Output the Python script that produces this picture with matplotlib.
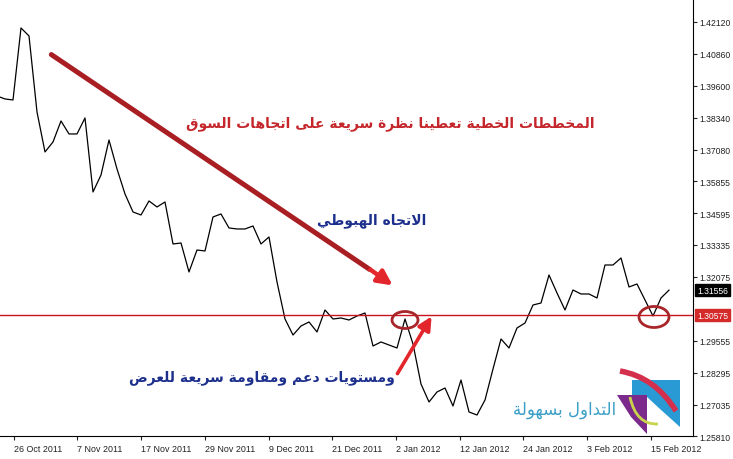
import matplotlib
matplotlib.use("Agg")
import matplotlib.pyplot as plt
from matplotlib.patches import Ellipse, Polygon
from matplotlib.path import Path
from matplotlib.patches import PathPatch
import matplotlib.transforms as mtransforms

# daily close prices (EURUSD-like)
prices = [
    1.39206, 1.39088, 1.39048, 1.41885, 1.41570, 1.38576, 1.37000, 1.37394,
    1.38221, 1.37709, 1.37709, 1.38339, 1.35424, 1.36093, 1.37472, 1.36330,
    1.35345, 1.34636, 1.34517, 1.35069, 1.34833, 1.35030, 1.33375, 1.33414,
    1.32272, 1.33138, 1.33099, 1.34439, 1.34557, 1.34005, 1.33966, 1.33966,
    1.34084, 1.33375, 1.33651, 1.31878, 1.30420, 1.29789, 1.30144, 1.30302,
    1.29908, 1.30774, 1.30420, 1.30459, 1.30380, 1.30538, 1.30656, 1.29356,
    1.29514, 1.29395, 1.29277, 1.30420, 1.29435, 1.27859, 1.27150, 1.27544,
    1.27701, 1.26992, 1.28016, 1.26756, 1.26637, 1.27228, 1.28450, 1.29632,
    1.29277, 1.30065, 1.30262, 1.30971, 1.31050, 1.32153, 1.31444, 1.30774,
    1.31562, 1.31405, 1.31405, 1.31247, 1.32547, 1.32547, 1.32823, 1.31681,
    1.31799, 1.31168, 1.30538, 1.31247, 1.31556,
]
date_labels = ["26 Oct 2011", "7 Nov 2011", "17 Nov 2011", "29 Nov 2011",
               "9 Dec 2011", "21 Dec 2011", "2 Jan 2012", "12 Jan 2012",
               "24 Jan 2012", "3 Feb 2012", "15 Feb 2012"]
price_ticks = [1.42120, 1.40860, 1.39600, 1.38340, 1.37080, 1.35855, 1.34595,
               1.33335, 1.32075, 1.29555, 1.28295, 1.27035, 1.25810]
last_price = 1.31556
level = 1.30575

title_red = "المخططات الخطية تعطينا نظرة سريعة على اتجاهات السوق"
label_trend = "الاتجاه الهبوطي"
label_levels = "ومستويات دعم ومقاومة سريعة للعرض"
logo_text = "التداول بسهولة"

# minimal arabic shaping: presentation forms + right-to-left order
FORMS = {
    'ا': ('\uFE8D', '\uFE8E', None, None),
    'ب': ('\uFE8F', '\uFE90', '\uFE91', '\uFE92'),
    'ة': ('\uFE93', '\uFE94', None, None),
    'ت': ('\uFE95', '\uFE96', '\uFE97', '\uFE98'),
    'ج': ('\uFE9D', '\uFE9E', '\uFE9F', '\uFEA0'),
    'خ': ('\uFEA5', '\uFEA6', '\uFEA7', '\uFEA8'),
    'د': ('\uFEA9', '\uFEAA', None, None),
    'ر': ('\uFEAD', '\uFEAE', None, None),
    'س': ('\uFEB1', '\uFEB2', '\uFEB3', '\uFEB4'),
    'ض': ('\uFEBD', '\uFEBE', '\uFEBF', '\uFEC0'),
    'ط': ('\uFEC1', '\uFEC2', '\uFEC3', '\uFEC4'),
    'ظ': ('\uFEC5', '\uFEC6', '\uFEC7', '\uFEC8'),
    'ع': ('\uFEC9', '\uFECA', '\uFECB', '\uFECC'),
    'ق': ('\uFED5', '\uFED6', '\uFED7', '\uFED8'),
    'ل': ('\uFEDD', '\uFEDE', '\uFEDF', '\uFEE0'),
    'م': ('\uFEE1', '\uFEE2', '\uFEE3', '\uFEE4'),
    'ن': ('\uFEE5', '\uFEE6', '\uFEE7', '\uFEE8'),
    'ه': ('\uFEE9', '\uFEEA', '\uFEEB', '\uFEEC'),
    'و': ('\uFEED', '\uFEEE', None, None),
    'ى': ('\uFEEF', '\uFEF0', None, None),
    'ي': ('\uFEF1', '\uFEF2', '\uFEF3', '\uFEF4'),
    'LA': ('\uFEFB', '\uFEFC', None, None),
}


def shape(text):
    chars = []
    i = 0
    while i < len(text):
        if text[i] == 'ل' and i + 1 < len(text) and text[i + 1] == 'ا':
            chars.append('LA')
            i += 2
        else:
            chars.append(text[i])
            i += 1
    out = []
    for i, c in enumerate(chars):
        if c not in FORMS:
            out.append(c)
            continue
        prev = chars[i - 1] if i > 0 else None
        nxt = chars[i + 1] if i + 1 < len(chars) else None
        join_prev = prev in FORMS and FORMS[prev][2] is not None
        join_next = FORMS[c][2] is not None and nxt in FORMS
        f = FORMS[c]
        if join_prev and join_next:
            out.append(f[3])
        elif join_prev:
            out.append(f[1])
        elif join_next:
            out.append(f[2])
        else:
            out.append(f[0])
    return ''.join(reversed(out))


W, H = 733, 460


def fp(x, y):
    # reference pixel -> figure fraction
    return (x / W, 1 - y / H)


fig = plt.figure(figsize=(W / 100, H / 100), dpi=100)
ax = fig.add_axes([0, 23 / H, 693 / W, 437 / H])

x = list(range(len(prices)))
ax.plot(x, prices, color='black', lw=0.9)
ax.axhline(level, color='#c8141e', lw=1.0)

ax.set_xlim(0.375, 87)
ax.set_ylim(1.25810, 1.25810 + 437 * 0.00039396)

for s in ['top', 'left']:
    ax.spines[s].set_visible(False)
ax.spines['right'].set_color('black')
ax.spines['bottom'].set_color('black')

tick_font = 'Liberation Sans'
ax.yaxis.tick_right()
ax.set_yticks(price_ticks)
ax.set_yticklabels([f"{v:.5f}" for v in price_ticks], family=tick_font)
ax.tick_params(axis='y', length=3, width=0.8, pad=1.5, labelsize=6.2, colors='#222222')

xt = [2.1 + 7.96 * k for k in range(len(date_labels))]
ax.set_xticks(xt)
ax.set_xticklabels(date_labels, ha='left', family=tick_font)
ax.tick_params(axis='x', length=3, width=0.8, pad=3, labelsize=6.4, colors='#222222')

# price boxes on the right axis
trans = mtransforms.blended_transform_factory(ax.transAxes, ax.transData)
ax.text(1.006, last_price, f"{last_price:.5f}", transform=trans, ha='left', va='center',
        fontsize=6.2, color='white', clip_on=False, family=tick_font,
        bbox=dict(boxstyle='square,pad=0.2', fc='black', ec='black'))
ax.text(1.006, level, f"{level:.5f}", transform=trans, ha='left', va='center',
        fontsize=6.2, color='white', clip_on=False, family=tick_font,
        bbox=dict(boxstyle='square,pad=0.2', fc='#d42a2a', ec='#d42a2a'))

# trend arrow
ax.annotate('', xy=fp(372, 272), xytext=fp(49, 54), xycoords='figure fraction',
            textcoords='figure fraction',
            arrowprops=dict(arrowstyle='-', color='#a81e22', lw=3.6))
ax.annotate('', xy=fp(395, 288), xytext=fp(368, 269), xycoords='figure fraction',
            textcoords='figure fraction',
            arrowprops=dict(arrowstyle='-|>', color='#e3262b', lw=3.2, mutation_scale=22))
# support arrow
ax.annotate('', xy=fp(433, 315), xytext=fp(396, 377), xycoords='figure fraction',
            textcoords='figure fraction',
            arrowprops=dict(arrowstyle='-|>', color='#e3262b', lw=2.6, mutation_scale=20))

# circles around the touches
for cx, cy, w, h in [(405, 321, 26, 17), (654, 318, 30, 21)]:
    e = Ellipse(fp(cx, cy), w / W, h / H, transform=fig.transFigure,
                fill=False, ec='#a8262a', lw=2.0)
    fig.add_artist(e)

fig.text(*fp(390, 124), shape(title_red), ha='center', va='center',
         fontsize=10, fontweight='bold', color='#c4262b', family='DejaVu Sans')
fig.text(*fp(372, 221), shape(label_trend), ha='center', va='center',
         fontsize=10, fontweight='bold', color='#1c2f8c', family='DejaVu Sans')
fig.text(*fp(262, 378), shape(label_levels), ha='center', va='center',
         fontsize=10, fontweight='bold', color='#1c2f8c', family='DejaVu Sans')
fig.text(*fp(565, 410), shape(logo_text), ha='center', va='center',
         fontsize=12, color='#3a9fc6', family='DejaVu Sans')

# logo graphic
blue = Polygon([fp(632, 381), fp(680, 381), fp(680, 428), fp(660, 410),
                fp(646, 397), fp(632, 397)], closed=True, transform=fig.transFigure,
               fc='#2a9ad4', ec='none')
purple = Polygon([fp(617, 396), fp(647, 396), fp(647, 435), fp(631, 418)],
                 closed=True, transform=fig.transFigure, fc='#7b2a8c', ec='none')
fig.add_artist(blue)
fig.add_artist(purple)
swoosh = PathPatch(Path([fp(620, 372), fp(655, 378), fp(676, 412)],
                        [Path.MOVETO, Path.CURVE3, Path.CURVE3]),
                   transform=fig.transFigure, fill=False, ec='#d4304e', lw=4)
fig.add_artist(swoosh)
curve = PathPatch(Path([fp(630, 398), fp(636, 426), fp(658, 425)],
                       [Path.MOVETO, Path.CURVE3, Path.CURVE3]),
                  transform=fig.transFigure, fill=False, ec='#c9d44c', lw=2)
fig.add_artist(curve)

fig.savefig('out.png', dpi=100, facecolor='white')
